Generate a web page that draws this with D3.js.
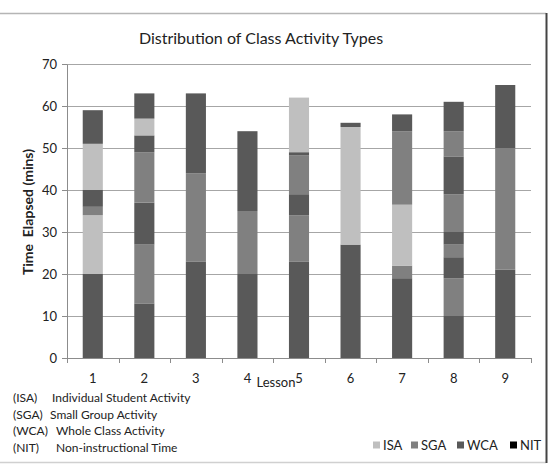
<!DOCTYPE html>
<html>
<head>
<meta charset="utf-8">
<script src="https://cdn.jsdelivr.net/npm/d3@7"></script>
<style>
  body { margin: 0; background: #fff; }
  text { font-family: Lato, "Open Sans", sans-serif; fill: #222; }
</style>
</head>
<body>
<svg id="chart"></svg>
<script>
// lessons and their activity sequences (bottom to top, end minute of each block)
const lessons = ['1', '2', '3', '4', '5', '6', '7', '8', '9'];
const segTypes = [
    ['WCA', 'ISA', 'SGA', 'WCA', 'ISA', 'WCA'],
    ['WCA', 'SGA', 'WCA', 'SGA', 'WCA', 'ISA', 'WCA'],
    ['WCA', 'SGA', 'WCA'],
    ['WCA', 'SGA', 'WCA'],
    ['WCA', 'SGA', 'WCA', 'SGA', 'WCA', 'ISA'],
    ['WCA', 'ISA', 'WCA'],
    ['WCA', 'SGA', 'ISA', 'SGA', 'WCA'],
    ['WCA', 'SGA', 'WCA', 'SGA', 'WCA', 'SGA', 'WCA', 'SGA', 'WCA'],
    ['WCA', 'SGA', 'WCA']
];
const segEnds = [
    [20, 34, 36, 40, 51, 59],
    [13, 27, 37, 49, 53, 57, 63],
    [23, 44, 63],
    [20, 35, 54],
    [23, 34, 39, 48.2, 49, 62],
    [27, 55, 56],
    [19, 22, 36.5, 54, 58],
    [10, 19, 24, 27, 30, 39, 48, 54, 61],
    [21, 50, 65]
];
const activityKeys = ['ISA', 'SGA', 'WCA', 'NIT'];
const activityNames = [
    ['(ISA)', 'Individual Student Activity'],
    ['(SGA)', 'Small Group Activity'],
    ['(WCA)', 'Whole Class Activity'],
    ['(NIT)', 'Non-instructional Time']
];
const yTicks = [0, 10, 20, 30, 40, 50, 60, 70];

const width = 550, height = 464;
const margin = {top: 64, right: 19, bottom: 106, left: 67};
const inner_width = width - margin.left - margin.right;
const inner_height = height - margin.top - margin.bottom;

const color = d3.scaleOrdinal()
    .domain(activityKeys)
    .range(['#bfbfbf', '#808080', '#595959', '#000000']);

// flatten into blocks
const blocks = [];
lessons.forEach((lesson, i) => {
    let start = 0;
    segEnds[i].forEach((end, j) => {
        blocks.push({lesson: lesson, type: segTypes[i][j], y0: start, y1: end});
        start = end;
    });
});

const svg = d3.select('#chart')
    .attr('width', width)
    .attr('height', height);

// outer frame
svg.append('line')
    .attr('x1', 0).attr('x2', 546).attr('y1', 13.5).attr('y2', 13.5)
    .attr('stroke', '#b5b5b5').attr('stroke-width', 1.5);
svg.append('line')
    .attr('x1', 0).attr('x2', 546).attr('y1', 462.5).attr('y2', 462.5)
    .attr('stroke', '#d0d0d0').attr('stroke-width', 1.5);
svg.append('line')
    .attr('x1', 546.5).attr('x2', 546.5).attr('y1', 13).attr('y2', 463)
    .attr('stroke', '#444').attr('stroke-width', 2);

const chart = svg.append('g')
    .attr('transform', `translate(${margin.left}, ${margin.top})`);

const xscale = d3.scaleBand()
    .domain(lessons)
    .range([0, inner_width])
    .paddingInner(0.61)
    .paddingOuter(0.305);

const yscale = d3.scaleLinear()
    .domain([0, 70])
    .range([inner_height, 0]);

// gridlines
chart.append('g')
    .selectAll('line')
    .data(yTicks.slice(1))
    .join('line')
    .attr('x1', 0)
    .attr('x2', inner_width)
    .attr('y1', d => Math.round(yscale(d)) + 0.5)
    .attr('y2', d => Math.round(yscale(d)) + 0.5)
    .attr('stroke', '#a6a6a6')
    .attr('stroke-width', 1.2);

// bars
chart.append('g')
    .selectAll('rect')
    .data(blocks)
    .join('rect')
    .attr('x', d => xscale(d.lesson))
    .attr('width', xscale.bandwidth())
    .attr('y', d => yscale(d.y1))
    .attr('height', d => yscale(d.y0) - yscale(d.y1))
    .attr('fill', d => color(d.type));

// y axis
const yaxis = d3.axisLeft(yscale)
    .tickValues(yTicks)
    .tickSize(5)
    .tickSizeOuter(0);
const yaxis_group = chart.append('g').call(yaxis);
yaxis_group.select('.domain').attr('stroke', '#8c8c8c');
yaxis_group.selectAll('.tick line').attr('stroke', '#8c8c8c');
yaxis_group.selectAll('.tick text')
    .attr('x', -10)
    .style('font-size', '13px')
    .style('font-family', 'Lato, sans-serif')
    .attr('fill', '#222');

// x axis with ticks between categories
const xaxis_group = chart.append('g')
    .attr('transform', `translate(0, ${inner_height})`);
xaxis_group.append('line')
    .attr('x1', 0).attr('x2', inner_width)
    .attr('y1', 0.5).attr('y2', 0.5)
    .attr('stroke', '#8c8c8c');
xaxis_group.selectAll('.sep')
    .data(d3.range(lessons.length + 1))
    .join('line')
    .attr('class', 'sep')
    .attr('x1', i => Math.round(i * xscale.step()) + 0.5)
    .attr('x2', i => Math.round(i * xscale.step()) + 0.5)
    .attr('y1', 0)
    .attr('y2', 5)
    .attr('stroke', '#8c8c8c');
xaxis_group.selectAll('.lbl')
    .data(lessons)
    .join('text')
    .attr('class', 'lbl')
    .attr('x', d => xscale(d) + xscale.bandwidth() / 2)
    .attr('y', 25)
    .attr('text-anchor', 'middle')
    .style('font-size', '13px')
    .text(d => d);

// title
svg.append('text')
    .attr('x', 261)
    .attr('y', 44)
    .attr('text-anchor', 'middle')
    .style('font-size', '16px')
    .text('Distribution of Class Activity Types');

// axis labels
svg.append('text')
    .attr('x', 276)
    .attr('y', 387)
    .attr('text-anchor', 'middle')
    .style('font-size', '13px')
    .text('Lesson');

svg.append('text')
    .attr('transform', 'rotate(-90)')
    .attr('x', -212)
    .attr('y', 33)
    .attr('text-anchor', 'middle')
    .style('font-size', '14px')
    .style('font-weight', 'bold')
    .attr('xml:space', 'preserve')
    .text('Time  Elapsed (mins)');

// abbreviation notes
const notes = svg.append('g');
const noteX = [[13, 52], [13, 50], [13, 56], [13, 56]];
activityNames.forEach((n, i) => {
    const y = 402 + i * 16.5;
    notes.append('text')
        .attr('x', noteX[i][0]).attr('y', y)
        .style('font-size', '12px')
        .text(n[0]);
    notes.append('text')
        .attr('x', noteX[i][1]).attr('y', y)
        .style('font-size', '12px')
        .text(n[1]);
});

// legend
const legendX = [373, 411, 457, 510];
const legend = svg.append('g')
    .selectAll('g')
    .data(activityKeys)
    .join('g')
    .attr('transform', (d, i) => `translate(${legendX[i]}, 445)`);
legend.append('rect')
    .attr('x', 0).attr('y', -3.5)
    .attr('width', 7).attr('height', 7)
    .attr('fill', d => color(d));
legend.append('text')
    .attr('x', 10).attr('y', 5)
    .style('font-size', '13px')
    .text(d => d);
</script>
</body>
</html>
